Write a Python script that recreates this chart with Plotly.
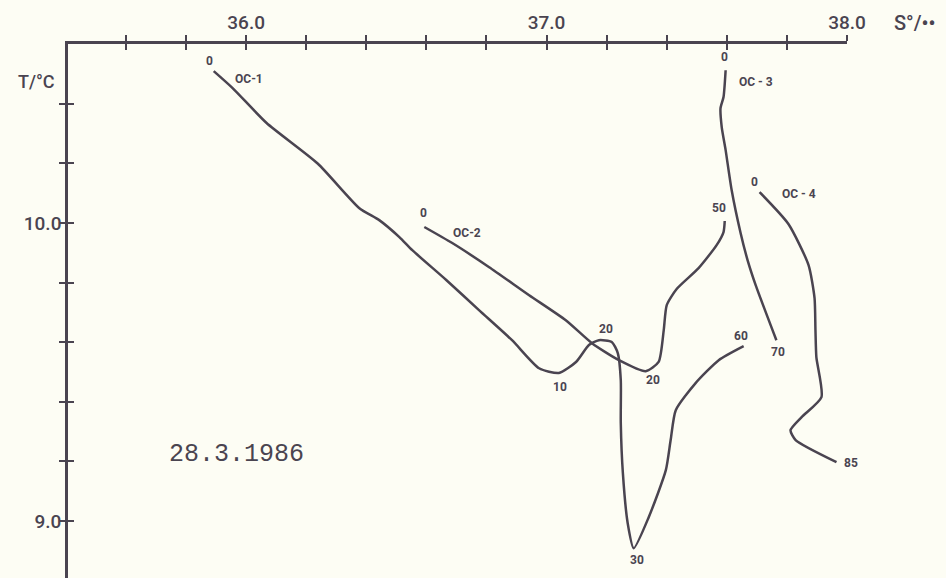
import plotly.graph_objects as go

# T-S curves (salinity S in per mille, temperature in degC)
oc1_s = [35.892, 35.955, 36.068, 36.238, 36.377, 36.443, 36.510, 36.553, 36.666, 36.775,
         36.885, 36.975, 37.041, 37.098, 37.141, 37.174, 37.217, 37.237, 37.247, 37.247, 37.254,
         37.270, 37.290, 37.340, 37.397, 37.413, 37.430, 37.496, 37.573, 37.656]
oc1_t = [10.510, 10.453, 10.336, 10.200, 10.050, 10.010, 9.953, 9.909, 9.809, 9.708,
         9.607, 9.513, 9.497, 9.534, 9.591, 9.607, 9.601, 9.564, 9.473, 9.329, 9.161,
         8.993, 8.909, 9.013, 9.171, 9.272, 9.372, 9.463, 9.540, 9.587]
oc1_depths = ["0", "10", "20", "30", "60"]
oc1_depth_idx = [0, 12, 15, 22, 29]

oc2_s = [36.593, 36.686, 36.809, 36.942, 37.064, 37.151, 37.241, 37.330, 37.373, 37.390, 37.400,
         37.433, 37.506, 37.566, 37.589, 37.593]
oc2_t = [9.987, 9.933, 9.852, 9.758, 9.674, 9.597, 9.540, 9.503, 9.534, 9.641, 9.725,
         9.779, 9.849, 9.926, 9.970, 10.007]
oc2_depths = ["0", "20", "50"]
oc2_depth_idx = [0, 7, 15]

oc3_s = [37.596, 37.589, 37.579, 37.583, 37.596, 37.616, 37.646, 37.669, 37.696, 37.765]
oc3_t = [10.513, 10.423, 10.386, 10.322, 10.245, 10.111, 9.966, 9.876, 9.792, 9.607]
oc3_depths = ["0", "70"]
oc3_depth_idx = [0, 9]

oc4_s = [37.709, 37.805, 37.872, 37.892, 37.895, 37.898, 37.915, 37.849, 37.812, 37.829, 37.965]
oc4_t = [10.104, 9.997, 9.859, 9.748, 9.641, 9.550, 9.416, 9.349, 9.305, 9.272, 9.198]
oc4_depths = ["0", "85"]
oc4_depth_idx = [0, 10]

stations = ["OC-1", "OC-2", "OC - 3", "OC - 4"]

s_ticks = [35.6, 35.8, 36.0, 36.2, 36.4, 36.6, 36.8, 37.0, 37.2, 37.4, 37.6, 37.8, 38.0]
s_ticktext = ["", "", "36.0", "", "", "", "", "37.0", "", "", "", "", "38.0"]
t_ticks = [9.0, 9.2, 9.4, 9.6, 9.8, 10.0, 10.2, 10.4]
t_ticktext = ["9.0", "", "", "", "", "10.0", "", ""]

date_text = "28.3.1986"

INK = "#4a4450"
BG = "#fdfdf4"

curves = [
    (oc1_s, oc1_t, oc1_depths, oc1_depth_idx),
    (oc2_s, oc2_t, oc2_depths, oc2_depth_idx),
    (oc3_s, oc3_t, oc3_depths, oc3_depth_idx),
    (oc4_s, oc4_t, oc4_depths, oc4_depth_idx),
]

# pixel offsets (right, down) of each depth label from its curve point
depth_offsets = [
    [(-4, -10), (1, 14), (7, -11), (3, 12), (-3, -10)],
    [(-1, -14), (7, 9), (-6, -13)],
    [(-1, -13), (2, 12)],
    [(-5, -10), (15, 1)],
]
station_offsets = [(35, 8), (43, 6), (30, 12), (39, 2)]

label_font = dict(family="Roboto", size=12, color=INK, weight="bold")

fig = go.Figure()
annotations = []

for k, (s, t, depths, idx) in enumerate(curves):
    fig.add_trace(go.Scatter(
        x=s, y=t, mode='lines',
        line=dict(color=INK, width=2.5, shape='spline', smoothing=0.6),
        showlegend=False, hoverinfo='skip'
    ))
    for lab, i, (dx, dy) in zip(depths, idx, depth_offsets[k]):
        annotations.append(dict(
            x=s[i], y=t[i], text=lab, showarrow=False, xshift=dx, yshift=-dy,
            xanchor='center', yanchor='middle', font=label_font
        ))
    dx, dy = station_offsets[k]
    annotations.append(dict(
        x=s[0], y=t[0], text=stations[k], showarrow=False, xshift=dx, yshift=-dy,
        xanchor='center', yanchor='middle', font=label_font
    ))

# second pair of axes so the ticks cross the axis lines
fig.add_trace(go.Scatter(x=[], y=[], xaxis='x2', yaxis='y2', showlegend=False))

# free labels, given in pixels of the 946x578 page
free_labels = [
    dict(text="S°/••", x=915, y=23, font=dict(family="Roboto", size=20, color=INK, weight=500)),
    dict(text="T/°C", x=36, y=82, font=dict(family="Roboto", size=18, color=INK, weight=500)),
    dict(text=date_text, x=236, y=454, font=dict(family="Liberation Mono", size=25, color=INK)),
]

W, H = 946, 578
L, R, T, B = 68, 99, 44, 0
for a in free_labels:
    annotations.append(dict(
        text=a['text'], xref='paper', yref='paper', showarrow=False,
        x=(a['x'] - L) / (W - L - R), y=1 - (a['y'] - T) / (H - T - B),
        xanchor='center', yanchor='middle', font=a['font']
    ))

axis_font = dict(family="Roboto", size=19, color=INK, weight=500)
common_x = dict(range=[35.407, 38.0], tickvals=s_ticks, showgrid=False, zeroline=False, ticklen=6,
                tickwidth=2, tickcolor=INK, automargin=False)
common_y = dict(range=[8.809, 10.601], tickvals=t_ticks, showgrid=False, zeroline=False, ticklen=6,
                tickwidth=2, tickcolor=INK, automargin=False)

fig.update_layout(
    width=W, height=H,
    margin=dict(l=L, r=R, t=T, b=B, autoexpand=False),
    paper_bgcolor=BG, plot_bgcolor=BG,
    xaxis=dict(**common_x, side='top', ticks='outside', ticktext=s_ticktext, tickfont=axis_font,
               showline=True, linecolor=INK, linewidth=2.5, ticklabelstandoff=-1),
    yaxis=dict(**common_y, side='left', ticks='outside', ticktext=t_ticktext, tickfont=axis_font,
               showline=True, linecolor=INK, linewidth=2.5, ticklabelstandoff=-6),
    xaxis2=dict(**common_x, side='top', overlaying='x', anchor='y2', ticks='inside',
                showticklabels=False, showline=False),
    yaxis2=dict(**common_y, side='left', overlaying='y', anchor='x2', ticks='inside',
                showticklabels=False, showline=False),
    annotations=annotations,
)

fig.write_html("out.html", config={'displayModeBar': False})

# drop the browser's default page margin so the figure sits at the top-left corner
with open("out.html", encoding="utf-8") as f:
    page = f.read()
page = page.replace("<body>", '<body style="margin:0;background:#fdfdf4">', 1)
with open("out.html", "w", encoding="utf-8") as f:
    f.write(page)
